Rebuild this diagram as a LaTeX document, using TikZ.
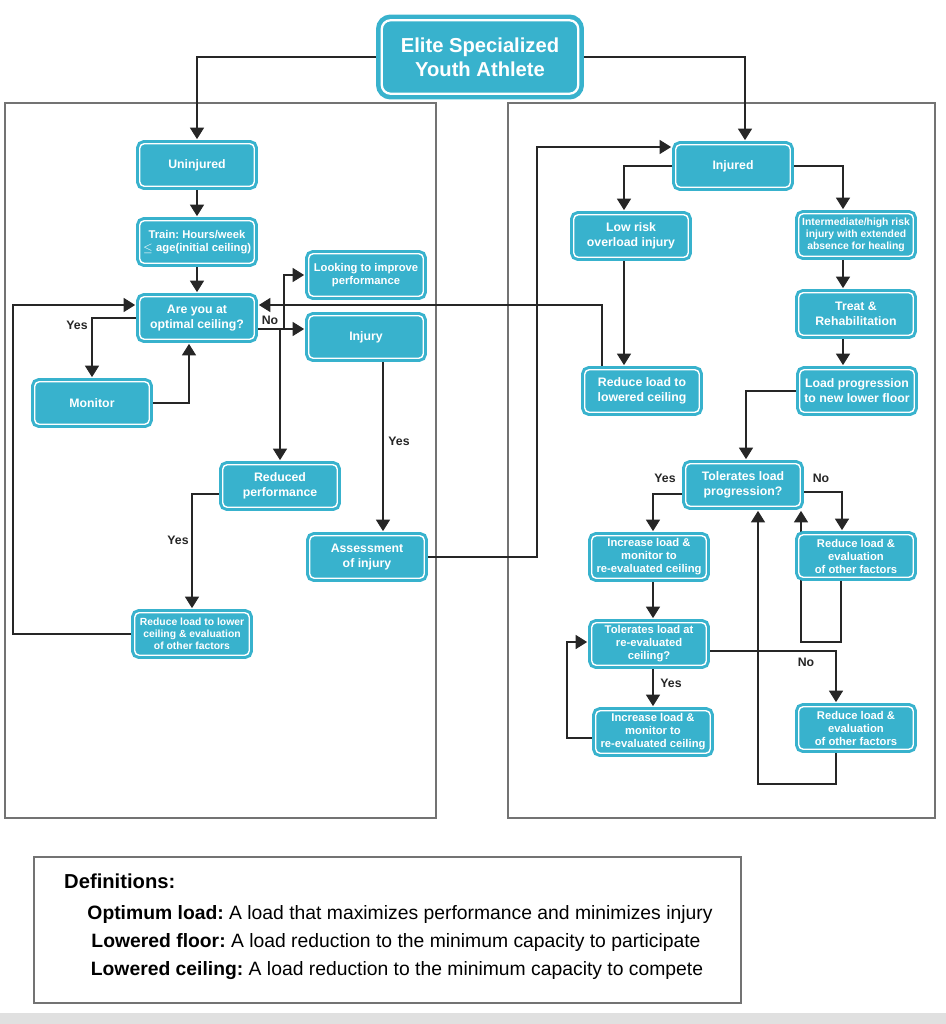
\documentclass[tikz,border=0pt]{standalone}
\usepackage{fontspec}
\setmainfont{Liberation Sans}
\frenchspacing
\usetikzlibrary{calc, arrows.meta, backgrounds}
\definecolor{boxteal}{RGB}{56,178,205}

\tikzset{
  box/.style={draw=boxteal, double=white, double distance=0.8pt, line width=1.7pt, fill=boxteal, rounded corners=2.5pt, text=white, align=center, minimum width=2.29cm, minimum height=0.85cm, inner sep=1pt, font=\bfseries\fontsize{7}{8.5}\selectfont},
  smallbox/.style={box, font=\bfseries\fontsize{6.4}{7.4}\selectfont},
  tinybox/.style={box, font=\bfseries\fontsize{5.9}{6.8}\selectfont},
  conn/.style={draw=black!85, line width=0.6pt, shorten >=1.8pt, -{Triangle[width=8pt,length=6.5pt]}},
  lbl/.style={font=\bfseries\fontsize{7}{8}\selectfont, text=black!85},
  panel/.style={draw=black!55, line width=0.8pt},
}

\begin{document}
\begin{tikzpicture}[x=0.02cm, y=-0.02cm]
\useasboundingbox (0,0) rectangle (946,1024);
\fill[black!12] (0,1013) rectangle (946,1024);

% top
\node[box, line width=2.6pt, double distance=1.3pt, minimum width=3.93cm, minimum height=1.47cm, rounded corners=5pt, font=\bfseries\fontsize{11.5}{13.6}\selectfont] (title) at (480,57) {Elite Specialized\\Youth Athlete};

% uninjured side
\node[box] (uninj) at (197,165) {Uninjured};
\node[smallbox] (train) at (197,242) {Train: Hours/week\\$\leq$ age(initial ceiling)};
\node[box] (optimal) at (197,318) {Are you at\\optimal ceiling?};
\node[box] (monitor) at (92,403) {Monitor};
\node[smallbox] (improve) at (366,275) {Looking to improve\\performance};
\node[box] (injury) at (366,337) {Injury};
\node[box] (reduced) at (280,486) {Reduced\\performance};
\node[box] (assess) at (367,557) {Assessment\\of injury};
\node[tinybox] (lowerceil) at (192,634) {Reduce load to lower\\ceiling \&\ evaluation\\of other factors};

% injured side
\node[box] (injured) at (733,166) {Injured};
\node[box] (lowrisk) at (631,236) {Low risk\\overload injury};
\node[tinybox] (highrisk) at (856,235) {Intermediate/high risk\\injury with extended\\absence for healing};
\node[box] (treat) at (856,314) {Treat \&\\Rehabilitation};
\node[box] (lowered) at (642,391) {Reduce load to\\lowered ceiling};
\node[box] (progfloor) at (857,391) {Load progression\\to new lower floor};
\node[box] (tolprog) at (743,485) {Tolerates load\\progression?};
\node[smallbox] (incload) at (649,557) {Increase load \&\\monitor to\\re-evaluated ceiling};
\node[smallbox] (redload) at (856,556) {Reduce load \&\\evaluation\\of other factors};
\node[smallbox] (tolceil) at (649,644) {Tolerates load at\\re-evaluated\\ceiling?};
\node[smallbox] (incload2) at (653,732) {Increase load \&\\monitor to\\re-evaluated ceiling};
\node[smallbox] (redload2) at (856,728) {Reduce load \&\\evaluation\\of other factors};

% yes / no
\node[lbl] (yes1) at (77,325) {Yes};
\node[lbl] (no1) at (270,320) {No};
\node[lbl] (yes2) at (399,441) {Yes};
\node[lbl] (yes3) at (178,540) {Yes};
\node[lbl] (yes4) at (665,478) {Yes};
\node[lbl] (no2) at (821,478) {No};
\node[lbl] (yes5) at (671,683) {Yes};
\node[lbl] (no3) at (806,662) {No};

% definitions
\draw[panel] (34,857) rectangle (741,1003);
\node[anchor=west, font=\bfseries\fontsize{11.5}{13}\selectfont] (defhead) at (58,881) {Definitions:};
\node[font=\fontsize{11}{13}\selectfont] (defopt) at (400,914) {\textbf{Optimum load:} A load that maximizes performance and minimizes injury};
\node[font=\fontsize{11}{13}\selectfont] (deffloor) at (396,942) {\textbf{Lowered floor:} A load reduction to the minimum capacity to participate};
\node[font=\fontsize{11}{13}\selectfont] (defceil) at (397,971) {\textbf{Lowered ceiling:} A load reduction to the minimum capacity to compete};

\begin{scope}[on background layer]
\draw[panel] (5,103) rectangle (436,818);
\draw[panel] (508,103) rectangle (935,818);

\draw[conn] (title.west) -| (uninj.north);
\draw[conn] (title.east) -| ($(injured.north)+(12,0)$);

% left loop
\draw[conn] (uninj) -- (train);
\draw[conn] (train) -- (optimal);
\draw[conn] (optimal.west) -| (monitor.north);
\draw[conn] (monitor.east) -| ($(optimal.south)+(-8,0)$);
\coordinate (loopL) at (13,305);
\draw[conn] (lowerceil.west) -| (loopL) -- (loopL -| optimal.west);
\coordinate (no) at ($(optimal.east)+(0,11)$);
\coordinate (nojct) at (284,329);
\draw[conn] (no) -- (no -| injury.west);
\draw[conn] (no) -| (reduced.north);
\draw[conn] (nojct) |- (improve.west);
\draw[conn] ($(injury.south)+(17,0)$) coordinate (iy) -- (iy |- assess.north);
\draw[conn] ($(reduced.west)+(0,8)$) -| (lowerceil.north);
\coordinate (injin) at (537,147);
\draw[conn] (assess.east) -| (injin) -- (injin -| injured.west);
\draw[conn] ($(lowered.north)+(-40,0)$) |- ($(optimal.east)+(0,-13)$);

% right side
\draw[conn] (injured.west) -| ($(lowrisk.north)+(-7,0)$);
\draw[conn] (injured.east) -| ($(highrisk.north)+(-13,0)$);
\draw[conn] ($(highrisk.south)+(-13,0)$) -- ($(treat.north)+(-13,0)$);
\draw[conn] ($(treat.south)+(-13,0)$) -- ($(progfloor.north)+(-14,0)$);
\draw[conn] ($(lowrisk.south)+(-7,0)$) -- ($(lowered.north)+(-18,0)$);
\draw[conn] (progfloor.west) -| ($(tolprog.north)+(3,0)$);
\draw[conn] ($(tolprog.west)+(0,9)$) -| ($(incload.north)+(4,0)$);
\draw[conn] ($(tolprog.east)+(0,7)$) -| ($(redload.north)+(-14,0)$);
\coordinate (rl) at (801,642);
\draw[conn] ($(redload.south)+(-15,0)$) |- (rl) -- (rl |- tolprog.south);
\draw[conn] ($(incload.south)+(4,0)$) -- ($(tolceil.north)+(4,0)$);
\draw[conn] ($(tolceil.south)+(4,0)$) -- (incload2.north);
\draw[conn] ($(tolceil.east)+(0,7)$) -| ($(redload2.north)+(-20,0)$);
\coordinate (ic) at (567,642);
\draw[conn] ($(incload2.west)+(0,6)$) -| (ic) -- (ic -| tolceil.west);
\coordinate (rr) at (758,784);
\draw[conn] ($(redload2.south)+(-20,0)$) |- (rr) -- (rr |- tolprog.south);
\end{scope}
\end{tikzpicture}
\end{document}
